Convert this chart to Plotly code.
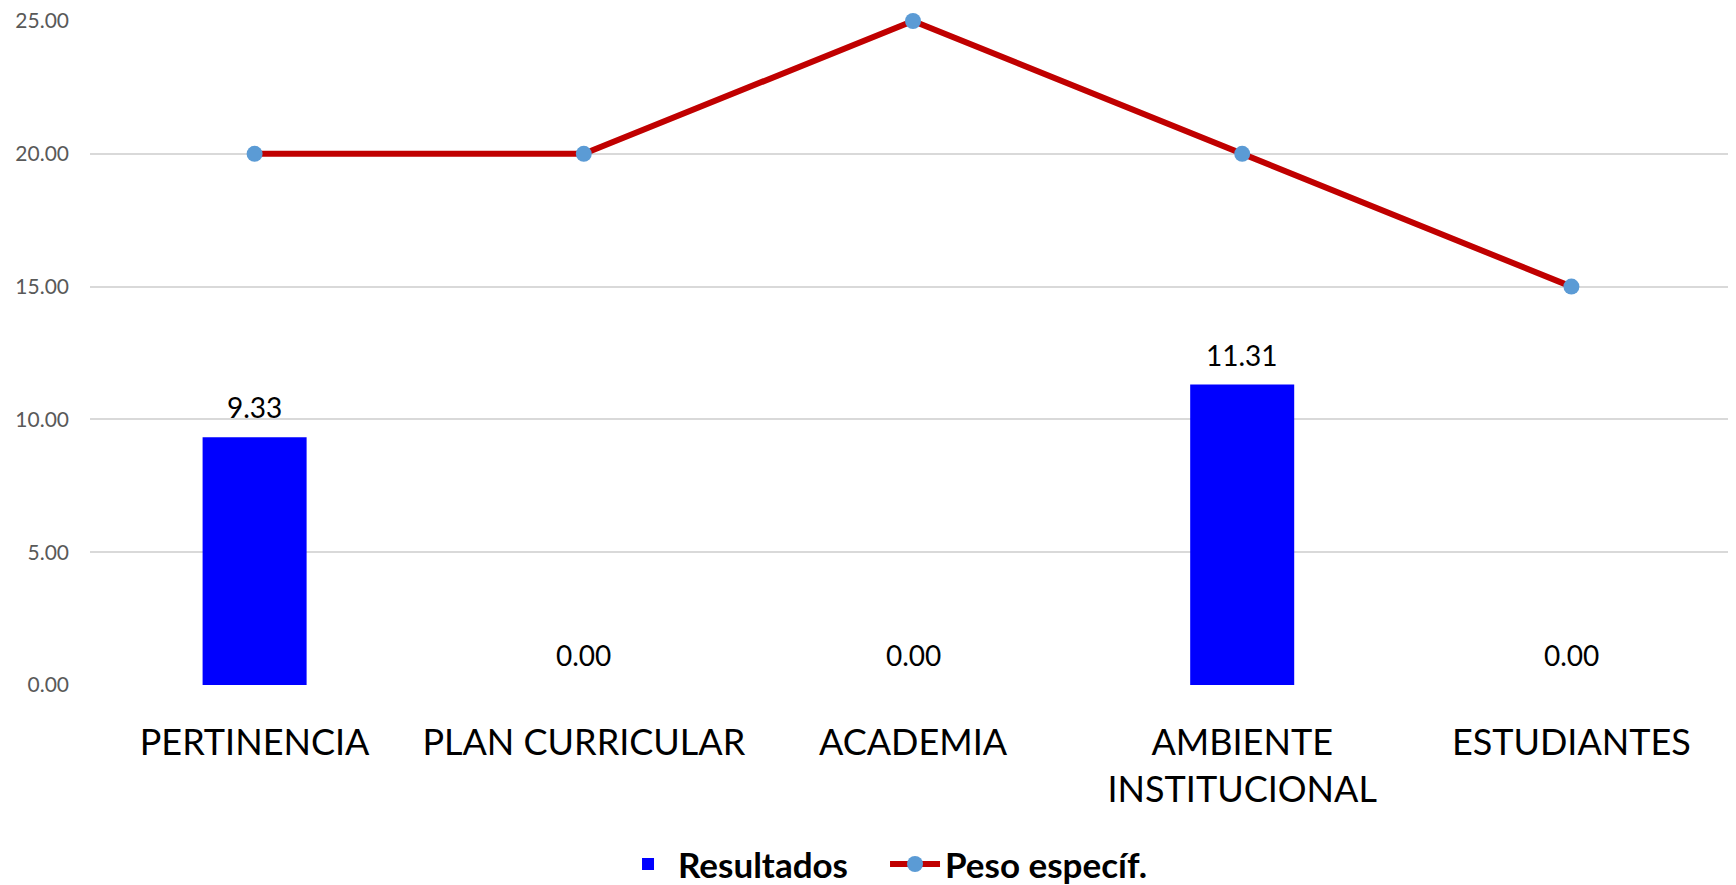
import plotly.graph_objects as go

categorias = ['PERTINENCIA', 'PLAN CURRICULAR', 'ACADEMIA', 'AMBIENTE<br>INSTITUCIONAL', 'ESTUDIANTES']
resultados = [9.33, 0.00, 0.00, 11.31, 0.00]
peso_especif = [20, 20, 25, 20, 15]
y_ticks = [0, 5, 10, 15, 20, 25]

FONT = 'Lato'

fig = go.Figure()

# barras de resultados
fig.add_trace(go.Bar(
    x=categorias, y=resultados, name='Resultados',
    marker=dict(color='#0000FF', line=dict(width=0)),
))

# linea de peso especifico
fig.add_trace(go.Scatter(
    x=categorias, y=peso_especif, name='Peso específ.', mode='lines+markers',
    line=dict(color='#C00000', width=6),
    marker=dict(color='#5B9BD5', size=16),
    cliponaxis=False,
))

# etiquetas de datos sobre las barras
for c, v in zip(categorias, resultados):
    fig.add_annotation(
        x=c, y=v, text=f'{v:.2f}', showarrow=False,
        yanchor='bottom', yshift=11,
        font=dict(family=FONT, size=28, color='#000000'),
    )

fig.update_xaxes(
    showgrid=False, showline=False, zeroline=False,
    tickfont=dict(family=FONT, size=36, color='#000000'),
    ticklabelstandoff=33,
)
fig.update_yaxes(
    range=[0, 25], tickvals=y_ticks, tickformat='.2f',
    showgrid=True, gridcolor='#D9D9D9', gridwidth=1.5,
    zeroline=False, showline=False,
    tickfont=dict(family=FONT, size=21, color='#595959'),
    ticklabelstandoff=20, ticklabeloverflow='allow',
)
fig.update_layout(
    width=1728, height=877,
    margin=dict(l=82, r=0, t=13, b=200, autoexpand=False),
    plot_bgcolor='white', paper_bgcolor='white',
    bargap=0.684,
    showlegend=True,
    legend=dict(
        orientation='h', x=0.483, y=-0.27, xanchor='center', yanchor='middle',
        font=dict(family=FONT, size=35, color='#000000', weight='bold'),
        itemwidth=50, entrywidth=202,
    ),
)

fig.write_html('out.html')
